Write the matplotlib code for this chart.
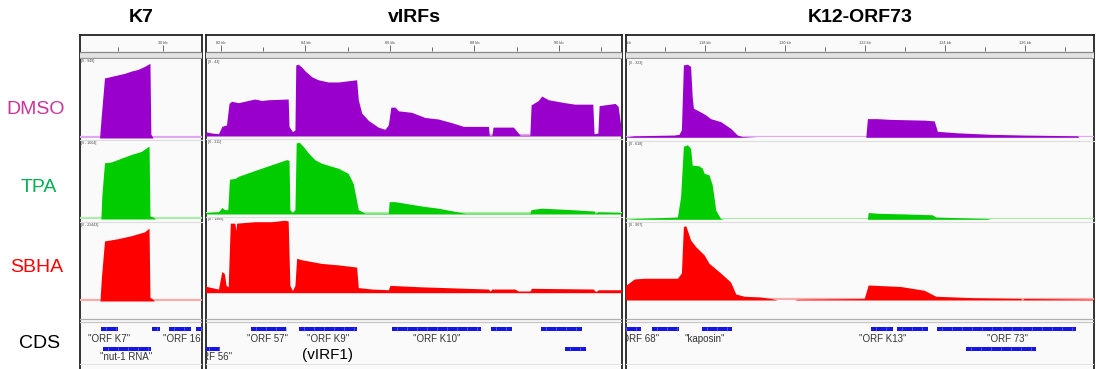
import matplotlib.pyplot as plt
import numpy as np
from matplotlib.patches import Rectangle

W, H = 1096, 369

# coverage tracks: (position kb, coverage as fraction of the track data range)
k7_dmso = [(28.11, 0), (28.59, 0), (28.63, 0.30), (28.70, 0.78), (28.78, 0.79), (28.85, 0.80),
           (29.00, 0.82), (29.15, 0.84), (29.30, 0.87), (29.44, 0.89), (29.59, 0.93), (29.68, 0.96),
           (29.71, 0.97), (29.73, 0.05), (29.78, 0), (30.85, 0)]
k7_tpa = [(28.11, 0), (28.62, 0), (28.64, 0.30), (28.70, 0.74), (28.85, 0.75), (29.07, 0.80),
          (29.30, 0.85), (29.52, 0.89), (29.69, 0.96), (29.71, 0.04), (29.80, 0.02), (29.83, 0), (30.85, 0)]
k7_sbha = [(28.11, 0), (28.60, 0), (28.63, 0.30), (28.70, 0.79), (29.00, 0.82), (29.30, 0.86),
           (29.59, 0.91), (29.69, 0.96), (29.71, 0.05), (29.78, 0.02), (29.81, 0), (30.85, 0)]

virf_dmso = [(81.62, 0.06), (81.78, 0.04), (81.94, 0.03), (82.02, 0.13), (82.13, 0.15), (82.19, 0.44),
             (82.25, 0.47), (82.41, 0.45), (82.80, 0.50), (82.96, 0.48), (83.12, 0.49), (83.59, 0.50),
             (83.61, 0.13), (83.69, 0.06), (83.75, 0.08), (83.77, 0.96), (83.83, 0.97), (83.91, 0.93),
             (83.99, 0.88), (84.15, 0.80), (84.30, 0.76), (84.54, 0.73), (84.78, 0.73), (85.21, 0.76),
             (85.25, 0.49), (85.33, 0.31), (85.49, 0.21), (85.72, 0.12), (85.88, 0.09), (85.96, 0.15),
             (86.02, 0.39), (86.12, 0.39), (86.20, 0.34), (86.51, 0.32), (86.83, 0.25), (87.14, 0.23),
             (87.46, 0.18), (87.74, 0.13), (88.33, 0.13), (88.35, 0.01), (88.41, 0.01), (88.44, 0.12),
             (88.92, 0.12), (89.08, 0.01), (89.31, 0.01), (89.34, 0.42), (89.51, 0.48), (89.59, 0.54),
             (89.75, 0.49), (90.14, 0.45), (90.38, 0.43), (90.80, 0.43), (90.83, 0.03), (90.92, 0.04),
             (90.95, 0.41), (91.33, 0.44), (91.40, 0.40), (91.48, 0.06)]
virf_tpa = [(81.62, 0.02), (81.94, 0.03), (82.02, 0.09), (82.09, 0.06), (82.16, 0.06), (82.20, 0.48),
            (82.33, 0.49), (82.41, 0.52), (82.80, 0.60), (83.20, 0.68), (83.55, 0.75), (83.61, 0.74),
            (83.63, 0.06), (83.69, 0.02), (83.75, 0.06), (83.78, 0.98), (83.85, 0.99), (83.95, 0.93),
            (84.07, 0.84), (84.22, 0.75), (84.38, 0.70), (84.78, 0.63), (85.01, 0.56), (85.13, 0.42),
            (85.25, 0.06), (85.41, 0.01), (85.96, 0.01), (85.98, 0.17), (86.12, 0.17), (86.75, 0.11),
            (87.14, 0.08), (87.78, 0.01), (89.31, 0.01), (89.34, 0.06), (89.59, 0.08), (90.30, 0.06),
            (90.84, 0.04), (90.85, 0.01), (90.93, 0.03), (91.48, 0.02)]
virf_sbha = [(81.62, 0.09), (81.94, 0.05), (82.02, 0.29), (82.08, 0.26), (82.12, 0.10), (82.17, 0.08),
             (82.22, 0.95), (82.33, 0.95), (82.35, 0.85), (82.37, 0.95), (82.80, 0.97), (83.20, 0.97),
             (83.51, 0.99), (83.59, 0.98), (83.63, 0.10), (83.69, 0.03), (83.75, 0.10), (83.79, 0.47),
             (83.91, 0.45), (84.38, 0.40), (84.78, 0.38), (85.21, 0.35), (85.25, 0.07), (85.57, 0.05),
             (85.96, 0.04), (86.00, 0.10), (86.75, 0.08), (88.33, 0.05), (88.37, 0.02), (88.41, 0.05),
             (88.96, 0.05), (89.04, 0.02), (89.31, 0.02), (89.35, 0.06), (90.81, 0.05), (90.87, 0.01),
             (90.93, 0.04), (91.48, 0.04)]

k12_dmso = [(115.98, 0), (116.23, 0.02), (117.23, 0.03), (117.35, 0.04), (117.41, 0.10), (117.46, 0.97),
            (117.56, 0.98), (117.64, 0.95), (117.68, 0.54), (117.71, 0.39), (117.89, 0.34), (118.02, 0.30),
            (118.14, 0.25), (118.39, 0.21), (118.64, 0.12), (118.81, 0.03), (118.93, 0.01), (119.31, 0),
            (122.02, 0), (122.06, 0.25), (122.31, 0.25), (122.64, 0.24), (123.48, 0.23), (123.73, 0.22),
            (123.81, 0.08), (124.31, 0.06), (125.14, 0.04), (125.98, 0.03), (127.31, 0.02), (127.35, 0),
            (127.73, 0)]
k12_tpa = [(115.98, 0), (116.23, 0.01), (117.31, 0.03), (117.39, 0.30), (117.46, 0.97), (117.56, 0.99),
           (117.64, 0.94), (117.68, 0.72), (117.85, 0.71), (117.93, 0.68), (117.98, 0.61), (118.10, 0.59),
           (118.18, 0.46), (118.27, 0.12), (118.39, 0.01), (118.48, 0), (122.06, 0), (122.08, 0.09),
           (122.31, 0.08), (123.06, 0.07), (123.68, 0.06), (123.77, 0.03), (125.06, 0.01), (125.14, 0),
           (127.73, 0)]
k12_sbha = [(115.98, 0.18), (116.23, 0.28), (116.48, 0.29), (117.31, 0.29), (117.41, 0.36), (117.46, 0.98),
            (117.52, 0.99), (117.64, 0.80), (117.77, 0.71), (117.98, 0.60), (118.10, 0.49), (118.39, 0.36),
            (118.64, 0.24), (118.77, 0.08), (118.98, 0.05), (119.39, 0.04), (119.64, 0.02), (119.81, 0),
            (120.23, 0), (120.31, 0.01), (121.98, 0.02), (122.08, 0.20), (122.48, 0.19), (122.89, 0.18),
            (123.48, 0.13), (123.77, 0.05), (124.73, 0.03), (125.89, 0.02), (125.93, 0.0), (125.98, 0.02),
            (127.73, 0.01)]

# data range labels per track
k7_ranges = ["[0 - 949]", "[0 - 1604]", "[0 - 22443]"]
virf_ranges = ["[0 - 43]", "[0 - 211]", "[0 - 1968]"]
k12_ranges = ["[0 - 323]", "[0 - 618]", "[0 - 907]"]

# CDS features: (start kb, end kb, row)
k7_genes = [(28.62, 29.00, 1), (29.76, 29.93, 1), (30.13, 30.62, 1), (30.73, 30.95, 1), (28.67, 29.73, 2)]
k7_names = [("\"ORF K7\"", 28.80, 1), ("\"ORF 16\"", 30.45, 1), ("\"nut-1 RNA\"", 29.18, 2)]
virf_genes = [(82.71, 83.54, 1), (83.85, 85.22, 1), (86.05, 88.15, 1), (88.39, 88.89, 1),
              (89.57, 90.54, 1), (81.60, 81.98, 2), (90.14, 90.64, 2)]
virf_names = [("\"ORF 57\"", 83.11, 1), ("\"ORF K9\"", 84.53, 1), ("\"ORF K10\"", 87.11, 1),
              ("\"ORF 56\"", 81.78, 2)]
k12_genes = [(115.9, 116.40, 1), (116.68, 117.35, 1), (117.93, 118.68, 1), (122.15, 122.70, 1),
             (122.80, 123.58, 1), (123.80, 127.28, 1), (124.53, 126.28, 2)]
k12_names = [("\"ORF 68\"", 116.35, 1), ("\"kaposin\"", 118.0, 1), ("\"ORF K13\"", 122.45, 1),
             ("\"ORF 73\"", 125.55, 1), ("\"ORF 74\"", 128.2, 1)]

colors = ["#9900cc", "#00cc00", "#ff0000"]
light = ["#e0a8f0", "#a8eea8", "#ffaaaa"]

# layout (pixels): panel extent, ruler scale and track geometry
panels = [
    dict(title="K7", px=(80, 202), ref=(163, 30.0), ppk=45.0, major=[30], minor=[29],
         tracks=[(61, 138), (143, 219), (225, 301)],
         data=[k7_dmso, k7_tpa, k7_sbha], ranges=k7_ranges, genes=k7_genes, names=k7_names),
    dict(title="vIRFs", px=(206, 622), ref=(221, 82.0), ppk=42.25, major=[82, 84, 86, 88, 90],
         minor=[83, 85, 87, 89, 91], tracks=[(62, 136), (141.5, 214), (219.5, 292.7)],
         data=[virf_dmso, virf_tpa, virf_sbha], ranges=virf_ranges, genes=virf_genes, names=virf_names),
    dict(title="K12-ORF73", px=(626, 1094), ref=(705, 118.0), ppk=40.0,
         major=[116, 118, 120, 122, 124, 126], minor=[117, 119, 121, 123, 125, 127],
         tracks=[(62.7, 137.3), (144, 219.3), (225, 300)],
         data=[k12_dmso, k12_tpa, k12_sbha], ranges=k12_ranges, genes=k12_genes, names=k12_names),
]

fig = plt.figure(figsize=(W / 100, H / 100), dpi=100)
fig.patch.set_facecolor("white")
sans = ["Liberation Sans", "DejaVu Sans"]
narrow = ["Liberation Sans Narrow", "Liberation Sans", "DejaVu Sans"]


def ax_at(x0, y0, x1, y1):
    a = fig.add_axes([x0 / W, 1 - y1 / H, (x1 - x0) / W, (y1 - y0) / H])
    return a


for p in panels:
    xl, xr = p["px"]
    px0, kb0 = p["ref"]
    kbl = kb0 + (xl - px0) / p["ppk"]
    kbr = kb0 + (xr - px0) / p["ppk"]

    bg = ax_at(xl, 35, xr, 375)
    bg.set_facecolor("#fafafa")
    bg.set_xticks([])
    bg.set_yticks([])
    bg.spines["bottom"].set_visible(False)
    for s in ["left", "top", "right"]:
        bg.spines[s].set_color("#222222")
        bg.spines[s].set_linewidth(1.3)

    fig.text((xl + xr) / 2 / W, 1 - 18 / H, p["title"], ha="center", va="center",
             fontsize=14, weight="bold", family=narrow)

    # ruler
    ru = ax_at(xl, 35, xr, 59)
    ru.set_xlim(kbl, kbr)
    ru.set_ylim(59, 35)
    ru.axis("off")
    ru.axhspan(51.5, 57.5, color="#e2e2e2", lw=0)
    ru.axhline(51.5, color="#888888", lw=0.9)
    ru.axhline(57.5, color="#999999", lw=0.9)
    ru.vlines(p["major"], 45, 51, color="#555555", lw=0.6)
    ru.vlines(p["minor"], 46.5, 51, color="#555555", lw=0.6)
    for m in p["major"]:
        ru.text(m, 42.5, f"{m} kb", fontsize=2.8, ha="center", va="center",
                color="#444444", family=sans, clip_on=True)

    # coverage tracks
    for i, (top, base) in enumerate(p["tracks"]):
        ta = ax_at(xl, top, xr, base)
        ta.set_facecolor("none")
        ta.axis("off")
        ta.set_xlim(kbl, kbr)
        ta.set_ylim(0, 1)
        xs, ys = zip(*p["data"][i])
        ta.axhline(0.008, color=light[i], lw=1.6, zorder=1)
        ta.fill_between(xs, ys, 0, color=colors[i], lw=0, zorder=2)
        ta.text(0.006, 1.0, p["ranges"][i], transform=ta.transAxes, fontsize=2.6,
                ha="left", va="center", color="#444444", family=sans)
        if i > 0:
            fig.add_artist(plt.Line2D([xl / W, xr / W], [1 - (top - 3) / H] * 2,
                                      color="#dddddd", lw=0.8))

    # CDS track
    ca = ax_at(xl, 316, xr, 369)
    ca.set_facecolor("none")
    ca.axis("off")
    ca.set_xlim(kbl, kbr)
    ca.set_ylim(369, 316)
    ca.axhline(319, color="#b0b0b0", lw=0.9)
    ca.axhline(322, color="#c8c8c8", lw=0.9)
    ca.axhline(363.5, color="#e4e4e4", lw=0.8)
    rows_y = {1: 329, 2: 348.5}
    lab_y = {1: 338.5, 2: 357.5}
    for s, e, r in p["genes"]:
        ca.add_patch(Rectangle((s, rows_y[r] - 2), e - s, 4, color="#1515e6", lw=0))
        step = 10.0 / p["ppk"]
        marks = np.arange(s + step / 2, e, step)
        ca.plot(marks, [rows_y[r]] * len(marks), ls="none", marker="|", ms=2.5,
                mew=0.4, color="#8080ff")
    for name, x, r in p["names"]:
        ca.text(x, lab_y[r], name, fontsize=7, ha="center", va="center",
                color="#333333", family=sans, clip_on=True)
    if p["title"] == "vIRFs":
        ca.text(84.53, 355.5, "(vIRF1)", fontsize=11, ha="center", va="center",
                color="black", family=sans)

# row labels
fig.text(36 / W, 1 - 110 / H, "DMSO", ha="center", va="center", fontsize=14,
         color="#cc3399", family=sans)
fig.text(39 / W, 1 - 188 / H, "TPA", ha="center", va="center", fontsize=14,
         color="#00b050", family=sans)
fig.text(37 / W, 1 - 268 / H, "SBHA", ha="center", va="center", fontsize=14,
         color="#ff0000", family=sans)
fig.text(40 / W, 1 - 344 / H, "CDS", ha="center", va="center", fontsize=14,
         color="black", family=sans)

fig.savefig("out.png", dpi=100)
